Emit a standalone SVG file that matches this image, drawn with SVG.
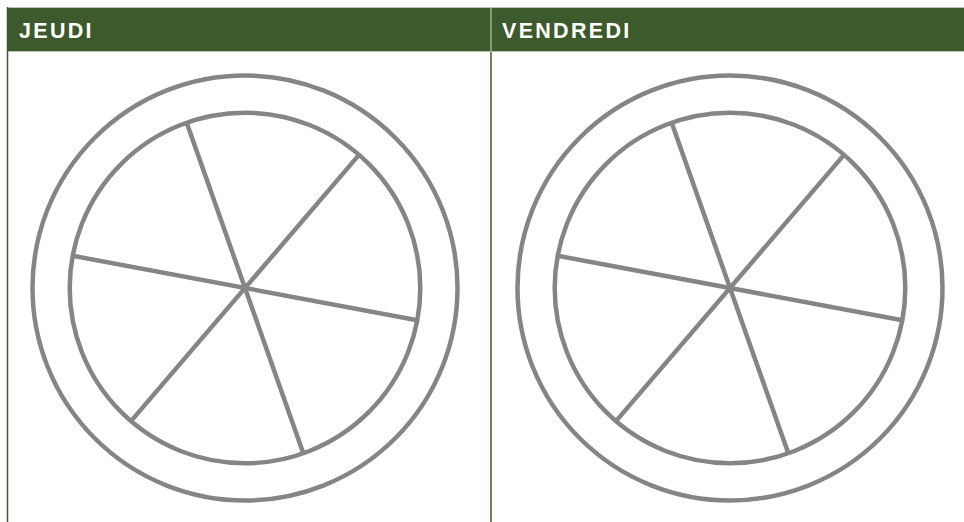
<svg xmlns="http://www.w3.org/2000/svg" width="964" height="522" viewBox="0 0 964 522">
<style>
.hdr{fill:#3c5a2c}
.ht{font-family:"Liberation Sans",Arial,sans-serif;font-weight:bold;font-size:21.5px;letter-spacing:2.3px;fill:#ffffff}
.ring{fill:none;stroke:#858585;stroke-width:4.5}
.spoke{stroke:#858585;stroke-width:4.5;stroke-linecap:butt}
.border{stroke:#3c5a2c;stroke-width:1.5}
.light{stroke:#b9c2b2;stroke-width:1.2}
</style>
<rect width="964" height="522" fill="#ffffff"/>
<g id="header">
<rect class="hdr" x="7" y="7" width="957" height="45"/>
<line class="light" x1="7" y1="7.5" x2="964" y2="7.5"/>
<line class="light" x1="7" y1="51.5" x2="964" y2="51.5"/>
<line class="light" x1="491" y1="8" x2="491" y2="51"/>
<text class="ht" x="19" y="37.5">JEUDI</text>
<text class="ht" x="502" y="37.5">VENDREDI</text>
</g>
<g id="borders">
<line class="border" x1="7.5" y1="7" x2="7.5" y2="522"/>
<line class="border" x1="491" y1="52" x2="491" y2="522"/>
</g>
<g id="wheel-jeudi" transform="translate(245,288)">
<circle class="ring" r="212.5"/>
<circle class="ring" r="175.3"/>
<g id="spokes-jeudi">
<line class="spoke" x1="-172.3" y1="-32.2" x2="172.3" y2="32.2"/>
<line class="spoke" x1="-58.3" y1="-165.3" x2="58.3" y2="165.3"/>
<line class="spoke" x1="114" y1="-133.1" x2="-114" y2="133.1"/>
</g>
</g>
<g id="wheel-vendredi" transform="translate(730,288)">
<circle class="ring" r="212.5"/>
<circle class="ring" r="175.3"/>
<g id="spokes-vendredi">
<line class="spoke" x1="-172.3" y1="-32.2" x2="172.3" y2="32.2"/>
<line class="spoke" x1="-58.3" y1="-165.3" x2="58.3" y2="165.3"/>
<line class="spoke" x1="114" y1="-133.1" x2="-114" y2="133.1"/>
</g>
</g>
</svg>
